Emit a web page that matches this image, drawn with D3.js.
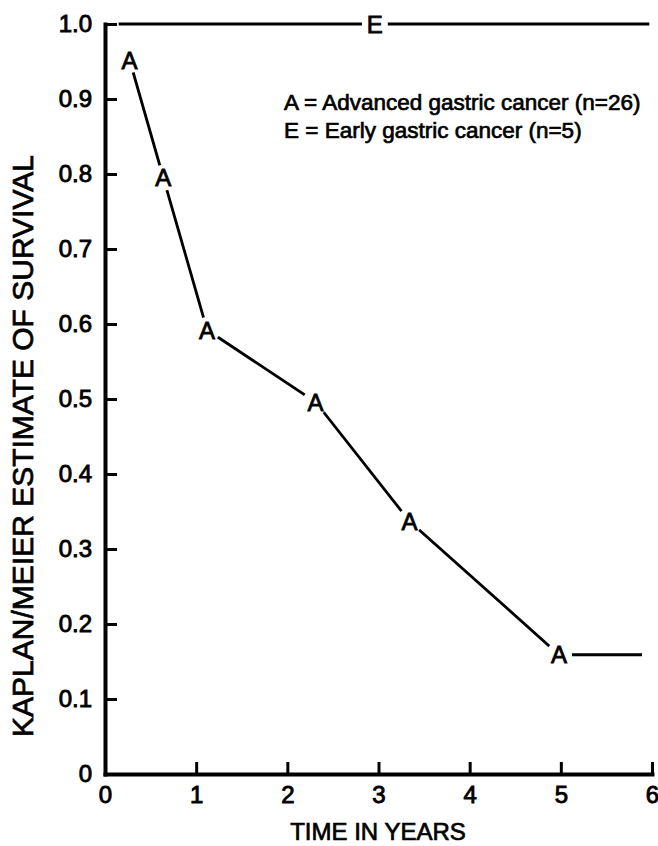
<!DOCTYPE html>
<html>
<head>
<meta charset="utf-8">
<script src="https://cdn.jsdelivr.net/npm/d3@7"></script>
<style>
  body { margin: 0; background: #fff; }
  text { font-family: 'Liberation Sans', Arial, sans-serif; fill: #000; }
</style>
</head>
<body>
<div id="chart"></div>
<script>
// Kaplan/Meier curves
const advTimes = [0.27, 0.64, 1.12, 2.31, 3.34, 4.98, 5.89];
const advSurvival = [0.952, 0.795, 0.592, 0.496, 0.337, 0.159, 0.159];
const advMarked = [true, true, true, true, true, true, false];

const earlyTimes = [0.15, 2.96, 5.97];
const earlySurvival = [1.0, 1.0, 1.0];
const earlyMarked = [false, true, false];

const xTicks = [0, 1, 2, 3, 4, 5, 6];
const yTicks = [0, 0.1, 0.2, 0.3, 0.4, 0.5, 0.6, 0.7, 0.8, 0.9, 1.0];

const legendLines = ['A = Advanced gastric cancer (n=26)', 'E = Early gastric cancer (n=5)'];

const width = 658;
const height = 846;
const plotLeft = 105;
const plotRight = 652;
const plotTop = 24;
const plotBottom = 774;

const svg = d3.select('#chart')
              .append('svg')
              .attr('width', width)
              .attr('height', height);

const xScale = d3.scaleLinear()
                 .domain([0, 6])
                 .range([plotLeft, plotRight]);

const yScale = d3.scaleLinear()
                 .domain([0, 1])
                 .range([plotBottom, plotTop]);

const xAxis = d3.axisBottom(xScale)
                .tickValues(xTicks)
                .tickSizeInner(-12)
                .tickSizeOuter(0)
                .tickPadding(12)
                .tickFormat(d3.format('d'));

const yAxis = d3.axisLeft(yScale)
                .tickValues(yTicks)
                .tickSizeInner(-12)
                .tickSizeOuter(0)
                .tickPadding(13)
                .tickFormat((d) => d === 0 ? '0' : d3.format('.1f')(d));

const styleAxis = (g) => {
  g.select('.domain').attr('stroke-width', 4).attr('stroke-linecap', 'square');
  g.selectAll('.tick line').attr('stroke-width', 3);
  g.selectAll('.tick text')
   .attr('font-size', 24)
   .attr('font-family', "'Liberation Sans', Arial, sans-serif")
   .attr('stroke', '#000')
   .attr('stroke-width', 0.9);
};

svg.append('g')
   .attr('transform', 'translate(0, ' + plotBottom + ')')
   .call(xAxis)
   .call(styleAxis);

svg.append('g')
   .attr('transform', 'translate(' + plotLeft + ', 0)')
   .call(yAxis)
   .call(styleAxis);

const line = d3.line()
               .x((d) => xScale(d[0]))
               .y((d) => yScale(d[1]));

const drawCurve = (times, values, marked, letter) => {
  const pts = times.map((t, i) => [t, values[i], marked[i]]);

  svg.append('path')
     .datum(pts)
     .attr('d', line)
     .attr('fill', 'none')
     .attr('stroke', '#000')
     .attr('stroke-width', 2.8);

  const marks = pts.filter((d) => d[2]);

  svg.selectAll('circle.gap-' + letter)
     .data(marks)
     .enter()
     .append('circle')
     .attr('class', 'gap-' + letter)
     .attr('cx', (d) => xScale(d[0]))
     .attr('cy', (d) => yScale(d[1]))
     .attr('r', 13)
     .attr('fill', '#fff');

  svg.selectAll('text.mark-' + letter)
     .data(marks)
     .enter()
     .append('text')
     .attr('class', 'mark-' + letter)
     .attr('x', (d) => xScale(d[0]))
     .attr('y', (d) => yScale(d[1]))
     .attr('dy', '0.36em')
     .attr('text-anchor', 'middle')
     .attr('font-size', 24)
     .attr('stroke', '#000')
     .attr('stroke-width', 0.8)
     .text(letter);
};

drawCurve(earlyTimes, earlySurvival, earlyMarked, 'E');
drawCurve(advTimes, advSurvival, advMarked, 'A');

svg.selectAll('text.legend')
   .data(legendLines)
   .enter()
   .append('text')
   .attr('class', 'legend')
   .attr('x', 284)
   .attr('y', (d, i) => 110 + i * 28)
   .attr('font-size', 22.5)
   .attr('stroke', '#000')
   .attr('stroke-width', 0.7)
   .text((d) => d);

svg.append('text')
   .attr('x', 378)
   .attr('y', 840)
   .attr('text-anchor', 'middle')
   .attr('font-size', 24)
   .attr('stroke', '#000')
   .attr('stroke-width', 0.7)
   .text('TIME IN YEARS');

svg.append('text')
   .attr('transform', 'translate(33, 446) rotate(-90)')
   .attr('text-anchor', 'middle')
   .attr('font-size', 30)
   .attr('stroke', '#000')
   .attr('stroke-width', 0.7)
   .text('KAPLAN/MEIER ESTIMATE OF SURVIVAL');
</script>
</body>
</html>
